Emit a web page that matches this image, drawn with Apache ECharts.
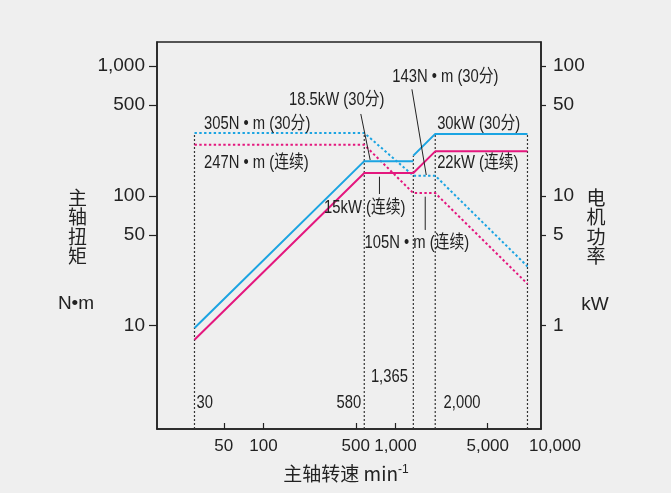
<!DOCTYPE html>
<html><head><meta charset="utf-8">
<script src="https://cdn.jsdelivr.net/npm/echarts@6/dist/echarts.min.js"></script>
<style>html,body{margin:0;padding:0;background:#efefef}#c{width:671px;height:493px}</style>
</head><body><div id="c"></div>
<script>
// ---- data ----
const speedTorque30 = [30, 580, 1365, 2000, 10000];   // min-1
const torque30 = [305, 305, 143, 143, 28.6];          // N·m, 30 min
const speedTorqueCont = [30, 580, 1365, 2000, 10000];
const torqueCont = [247, 247, 105, 105, 21];          // N·m, continuous
const speedPower30a = [30, 580, 1365];
const power30a = [0.96, 18.5, 18.5];                  // kW, 30 min (low gear)
const speedPower30b = [1365, 2000, 10000];
const power30b = [20.4, 30, 30];                      // kW, 30 min (high gear)
const speedPowerCont = [30, 580, 1365, 2000, 10000];
const powerCont = [0.78, 15, 15, 22, 22];             // kW, continuous
const guideSpeeds = [30, 580, 1365, 2000, 10000];
const guideLabels = ['30', '580', '1,365', '2,000'];
const xTickValues = [50, 100, 500, 1000, 5000];
const xLabelValues = [50, 100, 500, 1000, 5000, 10000];
const torqueTicks = [10, 50, 100, 500, 1000];
const powerTicks = [1, 5, 10, 50, 100];
const annotationTexts = ['305N • m (30分)', '247N • m (连续)', '18.5kW (30分)', '143N • m (30分)',
  '30kW (30分)', '22kW (连续)', '15kW (连续)', '105N • m (连续)'];

// ---- layout (positions in data space of the torque axis) ----
const X_MIN = 15.6, X_MAX = 12660;
const T_MIN = 1.601, T_MAX = 1530;
const KW_PER_NM_AXIS = 0.1;
const annotationPos = [
  [35.4, 357.6, 'left'], [35.4, 180, 'left'], [156, 547, 'left'], [944, 818, 'left'],
  [2068, 357.6, 'left'], [2068, 178, 'left'], [287.7, 80.6, 'left'], [582, 43.1, 'left']
];
const guideLabelPos = [[31.1, 2.526, 'left'], [549, 2.526, 'right'], [651, 4.05, 'left'], [2313, 2.526, 'left']];
const leaders = [
  [[546, 427], [643, 188.8]],
  [[1332, 661], [1710, 144.7]],
  [[756, 140.4], [756, 103.3]],
  [[1680, 98.5], [1680, 54.6]]
];

const BLUE = '#1ba4e2', PINK = '#e4177e', INK = '#222';
const SANS = "'Liberation Sans',Arial,'Noto Sans CJK SC',sans-serif";
const CJK = "'Noto Sans CJK SC','Liberation Sans',sans-serif";

const zip = (xs, ys) => xs.map((x, i) => [x, ys[i]]);
const fmt = v => Math.round(v).toLocaleString('en-US');

function valueAt(xs, ys, s) {
  const out = [];
  xs.forEach((x, i) => { if (x === s) out.push(ys[i]); });
  return out;
}
const guideSeries = guideSpeeds.map(s => {
  const tops = [].concat(
    valueAt(speedTorque30, torque30, s),
    valueAt(speedPower30a, power30a, s).map(v => v / KW_PER_NM_AXIS),
    valueAt(speedPower30b, power30b, s).map(v => v / KW_PER_NM_AXIS)
  );
  return {
    type: 'line', yAxisIndex: 0, symbol: 'none', silent: true, z: 1,
    lineStyle: { color: '#333', width: 1.2, type: [2, 2] },
    data: [[s, T_MIN], [s, Math.max.apply(null, tops)]]
  };
});

const lineS = (xs, ys, axis, color, dotted) => ({
  type: 'line', yAxisIndex: axis, symbol: 'none', z: dotted ? 2 : 3,
  lineStyle: { color, width: 2, type: dotted ? [2.4, 2.4] : 'solid' },
  data: zip(xs, ys)
});

const leaderSeries = leaders.map(p => ({
  type: 'line', yAxisIndex: 0, symbol: 'none', silent: true, z: 4,
  lineStyle: { color: INK, width: 1 }, data: p
}));

const axisNames = [
  { type: 'text', x: 77.5, y: 188, style: { text: '主\n轴\n扭\n矩', fill: INK, font: '19px ' + CJK, lineHeight: 19.5, align: 'center', verticalAlign: 'top' } },
  { type: 'text', x: 76, y: 304, style: { text: 'N•m', fill: INK, font: '19px ' + SANS, align: 'center', verticalAlign: 'middle' } },
  { type: 'text', x: 596, y: 188, style: { text: '电\n机\n功\n率', fill: INK, font: '19px ' + CJK, lineHeight: 19.5, align: 'center', verticalAlign: 'top' } },
  { type: 'text', x: 595, y: 305, style: { text: 'kW', fill: INK, font: '19px ' + SANS, align: 'center', verticalAlign: 'middle' } },
  { type: 'text', x: 346, y: 474, style: { text: '主轴转速 min{sup|-1}', fill: INK, font: '19px ' + CJK, align: 'center', verticalAlign: 'middle',
    rich: { sup: { fontSize: 12, fontFamily: SANS, fill: INK, padding: [0, 0, 9, 0] } } } }
];

const chart = echarts.init(document.getElementById('c'), null, { renderer: 'canvas' });
chart.setOption({
  backgroundColor: '#efefef',
  animation: false,
  grid: { left: 157, right: 130, top: 42, bottom: 64, show: true, borderColor: INK, borderWidth: 1.5,
    backgroundColor: 'transparent', containLabel: false, outerBoundsMode: 'none' },
  xAxis: {
    type: 'log', logBase: 10, min: X_MIN, max: X_MAX,
    axisLine: { show: true, lineStyle: { color: INK, width: 1.5 } },
    axisTick: { show: true, inside: true, length: 6, lineStyle: { color: INK, width: 1.2 }, customValues: xTickValues },
    minorTick: { show: false }, splitLine: { show: false },
    axisLabel: { customValues: xLabelValues, margin: 9, color: INK, fontSize: 17, fontFamily: SANS,
      formatter: v => Math.round(v) === 10000 ? '{s|' + fmt(v) + '}' : fmt(v),
      rich: { s: { padding: [0, 0, 0, 55], color: INK, fontSize: 17, fontFamily: SANS } } }
  },
  yAxis: [{
    type: 'log', logBase: 10, min: T_MIN, max: T_MAX, position: 'left',
    axisLine: { show: true, lineStyle: { color: INK, width: 1.5 } },
    axisTick: { show: true, length: 8, lineStyle: { color: INK, width: 1.2 }, customValues: torqueTicks },
    minorTick: { show: false }, splitLine: { show: false },
    axisLabel: { customValues: torqueTicks, margin: 12, color: INK, fontSize: 19, fontFamily: SANS, formatter: fmt }
  }, {
    type: 'log', logBase: 10, min: T_MIN * KW_PER_NM_AXIS, max: T_MAX * KW_PER_NM_AXIS, position: 'right',
    alignTicks: false,
    axisLine: { show: true, lineStyle: { color: INK, width: 1.5 } },
    axisTick: { show: true, length: 5, lineStyle: { color: INK, width: 1.2 }, customValues: powerTicks },
    minorTick: { show: false }, splitLine: { show: false },
    axisLabel: { customValues: powerTicks, margin: 12, color: INK, fontSize: 19, fontFamily: SANS, formatter: fmt }
  }],
  series: [].concat(
    guideSeries,
    [lineS(speedTorque30, torque30, 0, BLUE, true),
     lineS(speedTorqueCont, torqueCont, 0, PINK, true),
     lineS(speedPower30a, power30a, 1, BLUE, false),
     lineS(speedPower30b, power30b, 1, BLUE, false),
     lineS(speedPowerCont, powerCont, 1, PINK, false)],
    leaderSeries
  )
});

// annotations: placed through the chart's own coordinate conversion, condensed type
const toPx = v => chart.convertToPixel({ xAxisIndex: 0, yAxisIndex: 0 }, v);
const noteItems = annotationTexts.map((t, i) => [t, annotationPos[i]])
  .concat(guideLabels.map((t, i) => [t, guideLabelPos[i]]));
const noteGraphics = noteItems.map(([t, p]) => {
  const px = toPx([p[0], p[1]]);
  return { type: 'text', x: px[0], y: px[1], scaleX: 0.8, scaleY: 1, z: 10,
    style: { text: t, fill: INK, font: '18.5px ' + SANS, align: p[2], verticalAlign: 'middle' } };
});
chart.setOption({ graphic: axisNames.concat(noteGraphics) });
</script></body></html>
